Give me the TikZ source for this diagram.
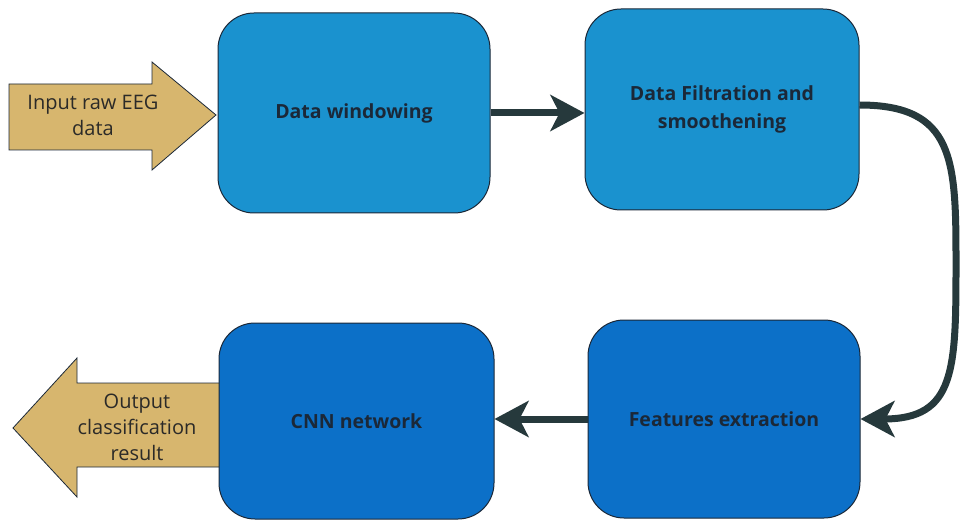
\documentclass[tikz,border=0pt]{standalone}
\usepackage{fontspec}
\setmainfont{Open Sans}
\usetikzlibrary{arrows.meta}
\definecolor{boxlight}{HTML}{1A92CF}
\definecolor{boxdark}{HTML}{0C70C8}
\definecolor{sand}{HTML}{D7B66E}
\definecolor{flow}{HTML}{26393C}
\definecolor{ink}{HTML}{1B2838}
\definecolor{labelink}{HTML}{2B2A28}

\begin{document}
\begin{tikzpicture}[x=1pt,y=-1pt,
  stage/.style={draw=ink, line width=1pt, rounded corners=36pt, inner sep=0pt,
    font=\fontsize{19.5}{28}\selectfont\bfseries, text=ink, align=center},
  flowline/.style={draw=flow, line width=7pt,
    -{Stealth[length=34pt,width=36pt,inset=9pt]}},
  ioarrow/.style={fill=sand, draw=ink, line width=0.8pt, line join=miter},
  iolabel/.style={font=\fontsize{20}{26}\selectfont, text=labelink, align=center}]
\useasboundingbox (0,0) rectangle (961,521);

% input and output block arrows
\path[ioarrow] (9,84) -- (152,84) -- (152,62) -- (216,115) -- (152,170)
  -- (152,150) -- (9,150) -- cycle;
\node[iolabel] (inlabel) at (93,115) {Input raw EEG\\data};

\path[ioarrow] (222,383) -- (77,383) -- (77,358) -- (13,428) -- (77,497)
  -- (77,467) -- (222,467) -- cycle;
\node[iolabel] (outlabel) at (137,427) {Output\\classification\\result};

% processing stages
\node[stage, fill=boxlight, minimum width=272pt, minimum height=200pt]
  (win) at (354,113) {Data windowing};
\node[stage, fill=boxlight, minimum width=274pt, minimum height=201pt]
  (filt) at (722,109.5) {Data Filtration and\\smoothening};
\node[stage, fill=boxdark, minimum width=272pt, minimum height=198pt]
  (feat) at (724,419) {Features extraction};
\node[stage, fill=boxdark, minimum width=275pt, minimum height=196pt]
  (cnn) at (356.5,421) {CNN network};

% connectors
\coordinate (bend) at (956,262);
\draw[flowline] ([yshift=4.5pt]filt.east) .. controls +(95,0) and (956,160) .. (bend)
  .. controls (956,370) and ([xshift=95pt]feat.east) .. (feat.east);
\draw[flowline] (win.east) -- (win.east -| filt.west);
\draw[flowline] (feat.west) -- (feat.west -| cnn.east);
\end{tikzpicture}
\end{document}
